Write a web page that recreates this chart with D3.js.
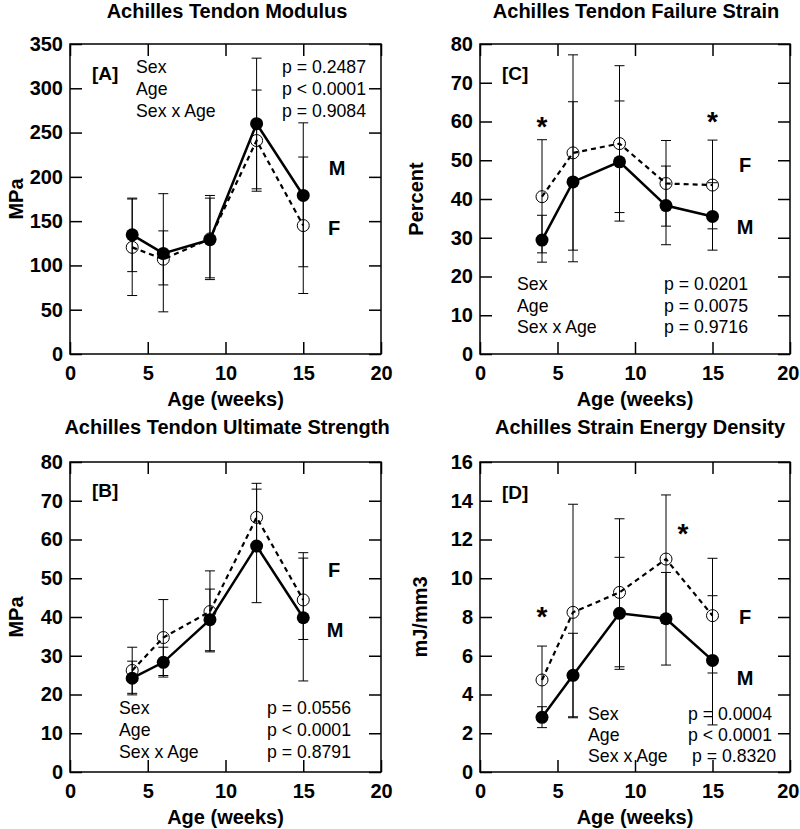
<!DOCTYPE html>
<html>
<head>
<meta charset="utf-8">
<script src="https://cdn.jsdelivr.net/npm/d3@7"></script>
<style>
  html, body { margin: 0; padding: 0; background: #fff; }
  svg { display: block; }
</style>
</head>
<body>
<svg id="chart" width="800" height="829"></svg>
<script>
// ---------------- DATA ----------------
const weeks = [4, 6, 9, 12, 15];
const xTicks = [0, 5, 10, 15, 20];

// [A] Modulus (MPa)
const modulusM   = [134.5, 113.6, 129, 260, 179];
const modulusF   = [120.4, 107, 130, 241, 145];
const modulusMLo = [93, 47.6, 84, 186.5, 98.5];
const modulusMHi = [176, 181, 176, 334, 261];
const modulusFLo = [66, 78, 86, 183.8, 68.3];
const modulusFHi = [175, 139, 179, 298, 222.4];
const modulusTicks = [0, 50, 100, 150, 200, 250, 300, 350];
const modulusP = ["p = 0.2487", "p < 0.0001", "p = 0.9084"];

// [C] Failure strain (Percent)
const strainM   = [29.4, 44.4, 49.6, 38.3, 35.5];
const strainF   = [40.6, 51.9, 54.3, 44.0, 43.6];
const strainMLo = [23.7, 23.8, 34.3, 28.2, 26.8];
const strainMHi = [35.8, 65.1, 65.3, 48.5, 44.2];
const strainFLo = [26.1, 26.8, 36.5, 33.0, 32.3];
const strainFHi = [55.3, 77.2, 74.4, 55.1, 55.2];
const strainTicks = [0, 10, 20, 30, 40, 50, 60, 70, 80];
const strainP = ["p = 0.0201", "p = 0.0075", "p = 0.9716"];
const strainStars = [[4, 60.4], [15, 61.7]];

// [B] Ultimate strength (MPa)
const strengthM   = [24.2, 28.3, 39.3, 58.3, 39.8];
const strengthF   = [26.2, 34.7, 41.4, 65.7, 44.4];
const strengthMLo = [19.9, 24.5, 31.3, 43.7, 23.5];
const strengthMHi = [28.6, 32.2, 47.2, 73.0, 56.6];
const strengthFLo = [20.3, 24.9, 31.0, 56.9, 34.2];
const strengthFHi = [32.2, 44.5, 51.9, 74.5, 55.2];
const strengthTicks = [0, 10, 20, 30, 40, 50, 60, 70, 80];
const strengthP = ["p = 0.0556", "p < 0.0001", "p = 0.8791"];

// [D] Strain energy density (mJ/mm3)
const energyM   = [2.82, 4.99, 8.19, 7.91, 5.76];
const energyF   = [4.75, 8.24, 9.27, 10.99, 8.07];
const energyMLo = [2.29, 2.85, 5.30, 5.52, 2.43];
const energyMHi = [3.37, 7.16, 11.08, 10.30, 9.10];
const energyFLo = [3.00, 2.80, 5.43, 7.68, 5.11];
const energyFHi = [6.50, 13.82, 13.07, 14.30, 11.03];
const energyTicks = [0, 2, 4, 6, 8, 10, 12, 14, 16];
const energyP = ["p = 0.0004", "p < 0.0001", "p = 0.8320"];
const energyStars = [[4, 8.36], [13.1, 12.65]];

const effectLabels = ["Sex", "Age", "Sex x Age"];

// ---------------- LAYOUT ----------------
const FONT = "'Liberation Sans', Arial, Helvetica, sans-serif";
const W = 800;
const svg = d3.select("#chart");

const panels = [
  { tag: "[A]", title: "Achilles Tendon Modulus", ylab: "MPa",
    M: modulusM, F: modulusF, MLo: modulusMLo, MHi: modulusMHi, FLo: modulusFLo, FHi: modulusFHi,
    yTicks: modulusTicks, p: modulusP, stars: [],
    box: { l: 70, r: 381, t: 44, b: 354 }, titleX: 227, titleY: 18, ylabX: 16,
    xLabY: 406, tagY: 80,
    stat: { x: 136, px: [366, 366, 366], y: [73, 95, 116.5] },
    mLab: [337, 175], fLab: [334, 235] },
  { tag: "[C]", title: "Achilles Tendon Failure Strain", ylab: "Percent",
    M: strainM, F: strainF, MLo: strainMLo, MHi: strainMHi, FLo: strainFLo, FHi: strainFHi,
    yTicks: strainTicks, p: strainP, stars: strainStars,
    box: { l: 480, r: 790, t: 44, b: 354 }, titleX: 636, titleY: 18, ylabX: 416,
    xLabY: 406, tagY: 80,
    stat: { x: 517, px: [748, 748, 748], y: [290, 312, 333] },
    mLab: [745, 234], fLab: [745, 172] },
  { tag: "[B]", title: "Achilles Tendon Ultimate Strength", ylab: "MPa",
    M: strengthM, F: strengthF, MLo: strengthMLo, MHi: strengthMHi, FLo: strengthFLo, FHi: strengthFHi,
    yTicks: strengthTicks, p: strengthP, stars: [],
    box: { l: 70, r: 381, t: 462, b: 772 }, titleX: 227, titleY: 434, ylabX: 16,
    xLabY: 824, tagY: 497,
    stat: { x: 119, px: [351, 351, 351], y: [713.5, 735.5, 758] },
    mLab: [335, 637], fLab: [334, 577] },
  { tag: "[D]", title: "Achilles Strain Energy Density", ylab: "mJ/mm3",
    M: energyM, F: energyF, MLo: energyMLo, MHi: energyMHi, FLo: energyFLo, FHi: energyFHi,
    yTicks: energyTicks, p: energyP, stars: energyStars,
    box: { l: 480, r: 790, t: 462, b: 772 }, titleX: 640, titleY: 434, ylabX: 420,
    xLabY: 824, tagY: 499,
    stat: { x: 588, px: [772, 772, 776], y: [719.5, 740.5, 761.5] },
    mLab: [745, 685], fLab: [745, 624] }
];

function styleAxis(g) {
  g.select(".domain").remove();
  g.selectAll("line").attr("stroke", "#000").attr("stroke-width", 1.5);
  g.selectAll("text").attr("font-family", FONT).attr("font-weight", "bold")
    .attr("font-size", 20).attr("fill", "#000");
}

panels.forEach(p => {
  const { l, r, t, b } = p.box;
  const x = d3.scaleLinear().domain([0, 20]).range([l, r]);
  const ymax = p.yTicks[p.yTicks.length - 1];
  const y = d3.scaleLinear().domain([0, ymax]).range([b, t]);
  const g = svg.append("g");
  const TK = 12;

  // axes (inward ticks on all four sides)
  g.append("g").attr("transform", `translate(${l},0)`)
    .call(d3.axisLeft(y).tickValues(p.yTicks).tickSize(-TK).tickPadding(7).tickFormat(d3.format("d")))
    .call(styleAxis);
  g.append("g").attr("transform", `translate(${r},0)`)
    .call(d3.axisRight(y).tickValues(p.yTicks).tickSize(-TK).tickFormat(""))
    .call(styleAxis);
  const xb = g.append("g").attr("transform", `translate(0,${b})`)
    .call(d3.axisBottom(x).tickValues(xTicks).tickSize(-TK).tickPadding(12).tickFormat(d3.format("d")))
    .call(styleAxis);
  // keep the last tick label inside the page at the right edge
  xb.selectAll(".tick text").each(function (d) {
    const bb = this.getBBox();
    const right = x(d) + bb.x + bb.width;
    if (right > W - 1) {
      d3.select(this).attr("text-anchor", "end").attr("x", W - 1 - x(d));
    }
  });
  g.append("g").attr("transform", `translate(0,${t})`)
    .call(d3.axisTop(x).tickValues(xTicks).tickSize(-TK).tickFormat(""))
    .call(styleAxis);

  // frame
  g.append("rect").attr("x", l).attr("y", t).attr("width", r - l).attr("height", b - t)
    .attr("fill", "none").attr("stroke", "#000").attr("stroke-width", 1.5);

  // title & axis labels
  g.append("text").attr("x", p.titleX).attr("y", p.titleY).attr("text-anchor", "middle")
    .attr("font-family", FONT).attr("font-weight", "bold").attr("font-size", 20).text(p.title);
  g.append("text").attr("x", (l + r) / 2).attr("y", p.xLabY).attr("text-anchor", "middle")
    .attr("font-family", FONT).attr("font-weight", "bold").attr("font-size", 20).text("Age (weeks)");
  g.append("text").attr("transform", `translate(${p.ylabX + 7},${(t + b) / 2}) rotate(-90)`)
    .attr("text-anchor", "middle")
    .attr("font-family", FONT).attr("font-weight", "bold").attr("font-size", 20).text(p.ylab);

  // error bars
  const bars = [
    ...weeks.map((w, i) => ({ w, lo: p.FLo[i], hi: p.FHi[i] })),
    ...weeks.map((w, i) => ({ w, lo: p.MLo[i], hi: p.MHi[i] }))
  ];
  const cap = 5;
  bars.forEach(d => {
    const cx = x(d.w);
    g.append("line").attr("x1", cx).attr("x2", cx).attr("y1", y(d.lo)).attr("y2", y(d.hi))
      .attr("stroke", "#000").attr("stroke-width", 1);
    [d.lo, d.hi].forEach(v => {
      g.append("line").attr("x1", cx - cap).attr("x2", cx + cap).attr("y1", y(v)).attr("y2", y(v))
        .attr("stroke", "#000").attr("stroke-width", 1);
    });
  });

  // lines
  const line = d3.line().x((d, i) => x(weeks[i])).y(d => y(d));
  g.append("path").attr("d", line(p.F)).attr("fill", "none").attr("stroke", "#000")
    .attr("stroke-width", 2.2).attr("stroke-dasharray", "5,4");
  g.append("path").attr("d", line(p.M)).attr("fill", "none").attr("stroke", "#000")
    .attr("stroke-width", 2.5);

  // markers
  g.selectAll(null).data(p.F).enter().append("circle")
    .attr("cx", (d, i) => x(weeks[i])).attr("cy", d => y(d)).attr("r", 6)
    .attr("fill", "none").attr("stroke", "#000").attr("stroke-width", 1);
  g.selectAll(null).data(p.M).enter().append("circle")
    .attr("cx", (d, i) => x(weeks[i])).attr("cy", d => y(d)).attr("r", 6.5)
    .attr("fill", "#000");

  // stars
  p.stars.forEach(s => {
    g.append("text").attr("x", x(s[0])).attr("y", y(s[1]) + 16).attr("text-anchor", "middle")
      .attr("font-family", FONT).attr("font-weight", "bold").attr("font-size", 28).text("*");
  });

  // panel tag
  g.append("text").attr("x", p.box.l + 22).attr("y", p.tagY)
    .attr("font-family", FONT).attr("font-weight", "bold").attr("font-size", 19).text(p.tag);

  // M / F labels
  g.append("text").attr("x", p.mLab[0]).attr("y", p.mLab[1]).attr("text-anchor", "middle")
    .attr("font-family", FONT).attr("font-weight", "bold").attr("font-size", 20).text("M");
  g.append("text").attr("x", p.fLab[0]).attr("y", p.fLab[1]).attr("text-anchor", "middle")
    .attr("font-family", FONT).attr("font-weight", "bold").attr("font-size", 20).text("F");

  // statistics
  effectLabels.forEach((lab, i) => {
    g.append("text").attr("x", p.stat.x).attr("y", p.stat.y[i])
      .attr("font-family", FONT).attr("font-size", 17.7).text(lab);
    g.append("text").attr("x", p.stat.px[i]).attr("y", p.stat.y[i]).attr("text-anchor", "end")
      .attr("font-family", FONT).attr("font-size", 17.7).text(p.p[i]);
  });
});
</script>
</body>
</html>
